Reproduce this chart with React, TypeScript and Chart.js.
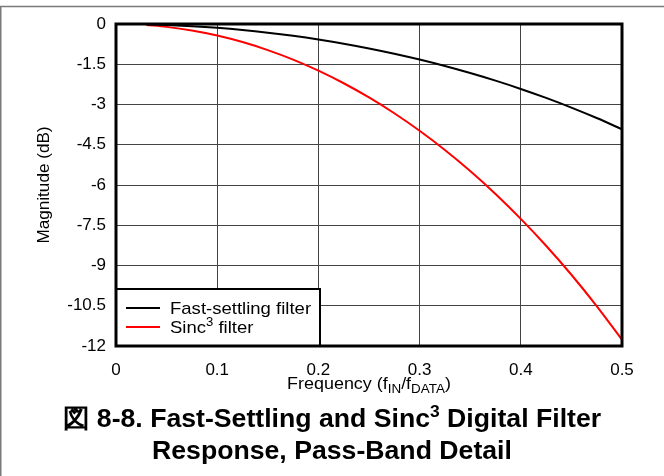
import React, { useEffect, useRef } from "react";
import { Chart, registerables } from "chart.js";

Chart.register(...registerables);

// Frequency (f_IN / f_DATA)
const freq = [0.03, 0.05, 0.075, 0.1, 0.125, 0.15, 0.175, 0.2, 0.225, 0.25, 0.275, 0.3, 0.325, 0.35, 0.375, 0.4, 0.425, 0.45, 0.475, 0.5];
// Magnitude (dB)
const fastSettling = [-0.013, -0.036, -0.081, -0.143, -0.224, -0.324, -0.442, -0.579, -0.736, -0.912, -1.109, -1.326, -1.565, -1.827, -2.111, -2.42, -2.754, -3.115, -3.504, -3.922];
const sinc3 = [-0.039, -0.107, -0.242, -0.43, -0.673, -0.972, -1.326, -1.738, -2.208, -2.736, -3.326, -3.979, -4.696, -5.48, -6.334, -7.261, -8.263, -9.345, -10.512, -11.767];

const xTicks = [0, 0.1, 0.2, 0.3, 0.4, 0.5];
const xTickLabels = ["0", "0.1", "0.2", "0.3", "0.4", "0.5"];
const yTicks = [0, -1.5, -3, -4.5, -6, -7.5, -9, -10.5, -12];
const yTickLabels = ["0", "-1.5", "-3", "-4.5", "-6", "-7.5", "-9", "-10.5", "-12"];

const seriesNames = ["Fast-settling filter", "Sinc"];
const seriesColors = ["#000000", "#ff0000"];

const FONT = "'Liberation Sans', Arial, Helvetica, sans-serif";

type Part = { t: string; mode?: "sub" | "sup" };

function drawRich(ctx: CanvasRenderingContext2D, parts: Part[], x: number, y: number, size: number, align: "left" | "center", stretch: number, subScale = 0.72) {
  const measure = (p: Part) => {
    ctx.font = `${p.mode ? Math.round(size * subScale) : size}px ${FONT}`;
    return ctx.measureText(p.t).width;
  };
  const total = parts.reduce((s, p) => s + measure(p), 0) * stretch;
  const startX = align === "center" ? x - total / 2 : x;
  ctx.save();
  ctx.translate(startX, y);
  ctx.scale(stretch, 1);
  ctx.textAlign = "left";
  ctx.textBaseline = "alphabetic";
  let cx = 0;
  for (const p of parts) {
    const w = measure(p);
    const dy = p.mode === "sub" ? size * 0.22 : p.mode === "sup" ? -size * 0.4 : 0;
    ctx.fillText(p.t, cx, dy);
    cx += w;
  }
  ctx.restore();
}

const decorPlugin = {
  id: "decor",
  afterDatasetsDraw(chart: any) {
    const ctx = chart.ctx as CanvasRenderingContext2D;
    const a = chart.chartArea;
    ctx.save();
    // legend box
    const lx = a.left, lw = 204, lh = 57, ly = a.bottom - lh;
    ctx.fillStyle = "#fff";
    ctx.fillRect(lx, ly, lw, lh);
    ctx.strokeStyle = "#000";
    ctx.lineWidth = 2;
    ctx.strokeRect(lx, ly, lw, lh);
    const rows = [ly + 19, ly + 38];
    seriesNames.forEach((n, i) => {
      ctx.strokeStyle = seriesColors[i];
      ctx.lineWidth = 2;
      ctx.beginPath();
      ctx.moveTo(lx + 10, rows[i]);
      ctx.lineTo(lx + 44, rows[i]);
      ctx.stroke();
      ctx.fillStyle = "#000";
      const parts: Part[] = i === 1 ? [{ t: n }, { t: "3", mode: "sup" }, { t: " filter" }] : [{ t: n }];
      drawRich(ctx, parts, lx + 54, rows[i] + 6, 17, "left", 1.09);
    });
    // frame
    ctx.strokeStyle = "#000";
    ctx.lineWidth = 3;
    ctx.strokeRect(a.left, a.top, a.right - a.left, a.bottom - a.top);
    // axis titles
    ctx.fillStyle = "#000";
    drawRich(ctx, [{ t: "Frequency (f" }, { t: "IN", mode: "sub" }, { t: "/f" }, { t: "DATA", mode: "sub" }, { t: ")" }], (a.left + a.right) / 2, 389, 16, "center", 1.12, 0.75);
    ctx.save();
    ctx.translate(49, (a.top + a.bottom) / 2);
    ctx.rotate(-Math.PI / 2);
    drawRich(ctx, [{ t: "Magnitude (dB)" }], 0, 0, 16, "center", 1.07);
    ctx.restore();
    // outer border
    ctx.strokeStyle = "#7a7a7a";
    ctx.lineWidth = 1.5;
    ctx.beginPath();
    ctx.moveTo(664, 6.5);
    ctx.lineTo(0.75, 6.5);
    ctx.lineTo(0.75, 476);
    ctx.stroke();
    ctx.restore();
  },
};

export default function App() {
  const ref = useRef<HTMLCanvasElement | null>(null);
  useEffect(() => {
    if (!ref.current) return;
    const mk = (ys: number[]) => freq.map((x, i) => ({ x, y: ys[i] }));
    const chart = new Chart(ref.current, {
      type: "line",
      data: {
        datasets: [
          { label: seriesNames[0], data: mk(fastSettling), borderColor: seriesColors[0], borderWidth: 2, pointRadius: 0, cubicInterpolationMode: "monotone" },
          { label: seriesNames[1], data: mk(sinc3), borderColor: seriesColors[1], borderWidth: 2, pointRadius: 0, cubicInterpolationMode: "monotone" },
        ],
      },
      options: {
        animation: false,
        responsive: false,
        devicePixelRatio: 1,
        layout: { padding: { left: 0, top: 24, right: 42, bottom: 0 } },
        plugins: { legend: { display: false }, title: { display: false }, tooltip: { enabled: false } },
        scales: {
          x: {
            type: "linear",
            min: 0,
            max: 0.5,
            afterBuildTicks: (s: any) => { s.ticks = xTicks.map((v) => ({ value: v })); },
            afterFit: (s: any) => { s.height = 130; },
            ticks: {
              callback: (v: any) => xTickLabels[xTicks.findIndex((t) => Math.abs(t - v) < 1e-9)],
              font: { family: FONT, size: 17 },
              color: "#000",
              padding: 14,
              maxRotation: 0,
            },
            grid: { color: "#444", lineWidth: 1, drawTicks: false },
            border: { display: false },
          },
          y: {
            type: "linear",
            min: -12,
            max: 0,
            afterBuildTicks: (s: any) => { s.ticks = yTicks.slice().reverse().map((v) => ({ value: v })); },
            afterFit: (s: any) => { s.width = 116; },
            ticks: {
              callback: (v: any) => yTickLabels[yTicks.findIndex((t) => Math.abs(t - v) < 1e-9)],
              font: { family: FONT, size: 17 },
              color: "#000",
              padding: 10,
            },
            grid: { color: "#444", lineWidth: 1, drawTicks: false },
            border: { display: false },
          },
        },
      } as any,
      plugins: [decorPlugin],
    });
    return () => chart.destroy();
  }, []);

  const capStyle: React.CSSProperties = {
    position: "absolute",
    left: 0,
    width: 664,
    textAlign: "center",
    fontFamily: FONT,
    fontWeight: "bold",
    fontSize: 26,
    lineHeight: "30px",
    color: "#000",
    whiteSpace: "nowrap",
  };

  return (
    <div style={{ position: "fixed", left: 0, top: 0, width: 664, height: 476, background: "#fff", overflow: "hidden" }}>
      <canvas ref={ref} width={664} height={476} style={{ position: "absolute", left: 0, top: 0, width: 664, height: 476 }} />
      <div style={{ ...capStyle, top: 403, transform: "scaleX(1.025)", transformOrigin: "334px 0" }}>
        図 8-8. Fast-Settling and Sinc<sup style={{ fontSize: 17, verticalAlign: "top", lineHeight: "17px" }}>3</sup> Digital Filter
      </div>
      <div style={{ ...capStyle, top: 435, transform: "scaleX(1.025)", transformOrigin: "334px 0" }}>Response, Pass-Band Detail</div>
    </div>
  );
}
